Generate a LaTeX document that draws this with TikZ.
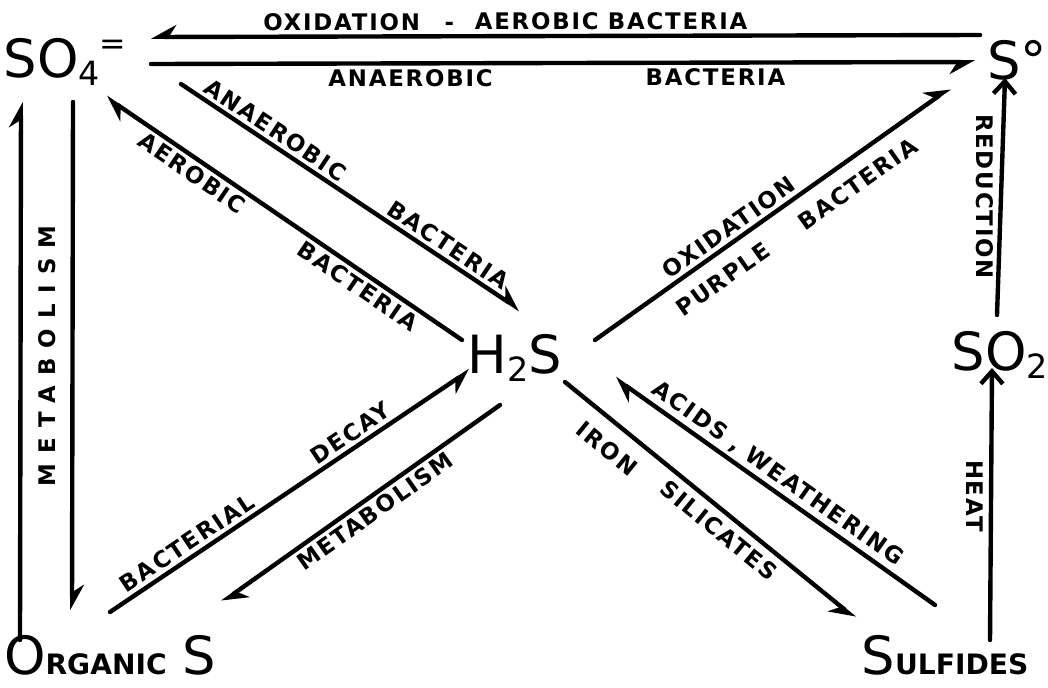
\documentclass[tikz,border=0pt]{standalone}
\usepackage{fontspec}
\setmainfont{DejaVu Sans}
\newfontfamily\labelfont[LetterSpace=8]{DejaVu Sans}
\newfontfamily\widefont[LetterSpace=45]{DejaVu Sans}
\usetikzlibrary{arrows.meta}

\newcommand{\chemsub}[1]{\raisebox{-0.3ex}{\fontsize{19pt}{19pt}\selectfont #1}}
\newcommand{\smallcap}[1]{{\fontsize{16pt}{16pt}\selectfont\bfseries #1}}

\tikzset{
    % Compounds
    chem/.style={font=\fontsize{30pt}{30pt}\selectfont, inner sep=0pt},
    % Arrows
    flow/.style={line width=2.5pt, line cap=round},
    harpL/.style={flow, -{Stealth[left, length=4.4mm, width=4.8mm, inset=1.5mm]}},
    harpR/.style={flow, -{Stealth[right, length=4.4mm, width=4.8mm, inset=1.5mm]}},
    fullarr/.style={flow, -{Straight Barb[length=2.5mm, width=4.4mm]}},
    % Labels
    lbl/.style={font=\labelfont\bfseries\fontsize{13pt}{13pt}\selectfont, inner sep=2pt},
    farlbl/.style={lbl, inner ysep=8pt}
}

\begin{document}
\begin{tikzpicture}[x=0.02cm, y=-0.02cm]
    \useasboundingbox (0,0) rectangle (1048,687);

    % Compounds
    \node[chem] (so4) at (65,62) {SO\chemsub{4}\raisebox{0.8ex}{\fontsize{18pt}{18pt}\selectfont =}};
    \node[chem] (s0) at (1017,60) {S°};
    \node[chem] (h2s) at (515,358) {H\chemsub{2}S};
    \node[chem] (so2) at (1000,355) {SO\chemsub{2}};
    \node[chem] (org) at (110,655) {O\smallcap{RGANIC}\hspace{0.3em}S};
    \node[chem] (sulf) at (945,655) {S\smallcap{ULFIDES}};

    % Top pair
    \draw[harpR] ([shift={(-37,-25)}]s0.center) --
        node[lbl, above, pos=0.77] {OXIDATION}
        node[lbl, above, pos=0.64] {-}
        node[lbl, above, pos=0.445] {AEROBIC\hspace{0.4em}BACTERIA}
        ([shift={(86,-25)}]so4.center);
    \draw[harpR] ([shift={(86,2)}]so4.center) --
        node[lbl, below, pos=0.315] {ANAEROBIC}
        node[lbl, below, pos=0.685] {BACTERIA}
        ([shift={(-42,2)}]s0.center);

    % Left pair
    \draw[harpL] ([shift={(-90,-15)}]org.center) -- ([shift={(-44,40)}]so4.center);
    \draw[harpL] ([shift={(8,40)}]so4.center) --
        node[midway, rotate=90, anchor=south, inner sep=8pt, font=\widefont\bfseries\fontsize{13pt}{13pt}\selectfont] {METABOLISM}
        ([shift={(-38,-45)}]org.center);

    % SO4 and H2S
    \draw[harpL] ([shift={(116,22)}]so4.center) --
        node[lbl, sloped, above, pos=0.256] {ANAEROBIC}
        node[lbl, sloped, above, pos=0.765] {BACTERIA}
        ([shift={(5,-48)}]h2s.center);
    \draw[harpL] ([shift={(-53,-18)}]h2s.center) --
        node[lbl, sloped, below, pos=0.27] {BACTERIA}
        node[lbl, sloped, below, pos=0.736] {AEROBIC}
        ([shift={(41,35)}]so4.center);

    % Organic S and H2S
    \draw[harpR] ([shift={(0,-43)}]org.center) --
        node[lbl, sloped, above, pos=0.236] {BACTERIAL}
        node[lbl, sloped, above, pos=0.69] {DECAY}
        ([shift={(-45,12)}]h2s.center);
    \draw[harpL] ([shift={(-15,47)}]h2s.center) --
        node[lbl, sloped, below, pos=0.48] {METABOLISM}
        ([shift={(112,-53)}]org.center);

    % H2S and S
    \draw[harpL] ([shift={(80,-18)}]h2s.center) --
        node[lbl, sloped, above, pos=0.40] {OXIDATION}
        node[farlbl, sloped, below, pos=0.32] {PURPLE}
        node[farlbl, sloped, below, pos=0.70] {BACTERIA}
        ([shift={(-67,28)}]s0.center);

    % Right column
    \draw[fullarr] ([shift={(-3,-40)}]so2.center) --
        node[lbl, midway, rotate=-90, anchor=north, inner sep=3pt] {REDUCTION}
        ([shift={(-12,18)}]s0.center);
    \draw[fullarr] ([shift={(45,-15)}]sulf.center) --
        node[lbl, pos=0.53, rotate=-90, anchor=north, inner sep=3pt] {HEAT}
        ([shift={(-8,13)}]so2.center);

    % H2S and Sulfides
    \draw[harpR] ([shift={(50,24)}]h2s.center) --
        node[farlbl, sloped, below, pos=0.2] {IRON}
        node[lbl, sloped, below, pos=0.57, inner ysep=4pt] {SILICATES}
        ([shift={(-90,-37)}]sulf.center);
    \draw[harpL] ([shift={(-10,-50)}]sulf.center) --
        node[lbl, sloped, above, pos=0.52] {ACIDS , WEATHERING}
        ([shift={(100,20)}]h2s.center);

\end{tikzpicture}
\end{document}
